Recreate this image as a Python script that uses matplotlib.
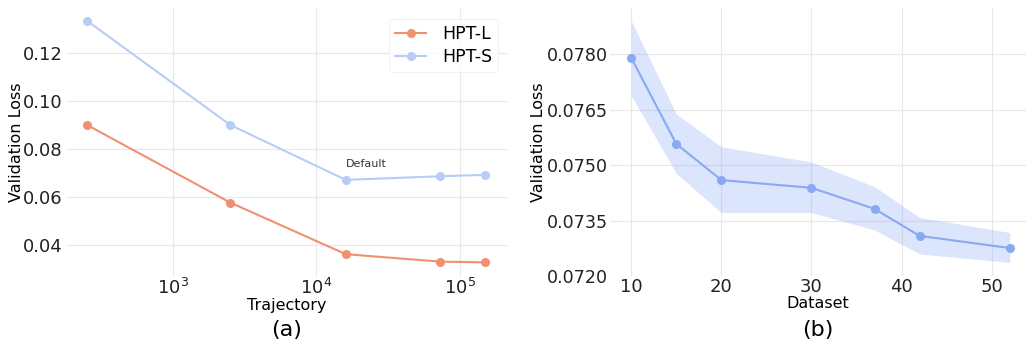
import matplotlib
matplotlib.use("Agg")
import matplotlib.pyplot as plt
import numpy as np

# panel (a): validation loss vs number of trajectories
traj = [250, 2500, 16000, 73000, 150000]
hpt_l = [0.0900, 0.0578, 0.0364, 0.0333, 0.0330]
hpt_s = [0.1332, 0.0900, 0.0672, 0.0687, 0.0693]

# panel (b): validation loss vs number of datasets
n_dataset = [10, 15, 20, 30, 37, 42, 52]
loss_mean = [0.07791, 0.07558, 0.07460, 0.07439, 0.07382, 0.07309, 0.07276]
loss_upper = [0.07891, 0.07639, 0.07550, 0.07509, 0.07442, 0.07359, 0.07318]
loss_lower = [0.07689, 0.07478, 0.07372, 0.07372, 0.07325, 0.07260, 0.07237]

c_l = "#f0906f"
c_s = "#b9ccf6"
c_b = "#8aa9f2"
grid_c = "#e8e8e8"

plt.rcParams["font.family"] = "DejaVu Sans"

fig = plt.figure(figsize=(10.28, 3.46), dpi=100)
ax1 = fig.add_axes([0.065, 0.202, 0.428, 0.775])
ax2 = fig.add_axes([0.593, 0.202, 0.405, 0.775])

for ax in (ax1, ax2):
    for s in ax.spines.values():
        s.set_visible(False)
    ax.grid(True, color=grid_c, linewidth=0.8)
    ax.set_axisbelow(True)
    ax.tick_params(length=0, labelsize=13, colors="#222222")
    ax.tick_params(axis="x", pad=1.5)
    ax.tick_params(axis="y", pad=3)
ax2.tick_params(axis="y", labelsize=12.6, pad=1.5)

# (a)
ax1.plot(traj, hpt_l, "-o", color=c_l, lw=1.5, ms=5.5, label="HPT-L")
ax1.plot(traj, hpt_s, "-o", color=c_s, lw=1.5, ms=5.5, label="HPT-S")
ax1.set_xscale("log")
ax1.set_xlim(181, 213000)
ax1.set_ylim(0.0273, 0.1385)
ax1.set_yticks([0.04, 0.06, 0.08, 0.10, 0.12])
ax1.set_yticklabels(["0.04", "0.06", "0.08", "0.10", "0.12"])
ax1.minorticks_off()
ax1.annotate("Default", (traj[2], hpt_s[2]), xytext=(0, 8), textcoords="offset points",
             fontsize=8, color="#333333", ha="left", va="bottom")
ax1.set_xlabel("Trajectory", fontsize=11.5, labelpad=0)
ax1.set_ylabel("Validation Loss", fontsize=11.5)
ax1.yaxis.set_label_coords(-0.098, 0.5)
leg = ax1.legend(loc="upper right", fontsize=12.5, frameon=True, borderpad=0.35,
                 handlelength=1.8, labelspacing=0.25, handletextpad=0.9,
                 bbox_to_anchor=(1.0, 0.99))
leg.get_frame().set_edgecolor("#eeeeee")
leg.get_frame().set_linewidth(0.8)
ax1.text(0.5, -0.2, "(a)", transform=ax1.transAxes, ha="center", va="center", fontsize=16)

# (b)
ax2.fill_between(n_dataset, loss_lower, loss_upper, color=c_b, alpha=0.3, lw=0)
ax2.plot(n_dataset, loss_mean, "-o", color=c_b, lw=1.5, ms=5.5)
ax2.set_xlim(7.6, 53.8)
ax2.set_ylim(0.0720, 0.07926)
ax2.set_xticks([10, 20, 30, 40, 50])
ax2.set_yticks([0.0720, 0.0735, 0.0750, 0.0765, 0.0780])
ax2.set_yticklabels(["0.0720", "0.0735", "0.0750", "0.0765", "0.0780"])
ax2.set_xlabel("Dataset", fontsize=11.5, labelpad=0)
ax2.set_ylabel("Validation Loss", fontsize=11.5)
ax2.yaxis.set_label_coords(-0.152, 0.5)
ax2.text(0.5, -0.2, "(b)", transform=ax2.transAxes, ha="center", va="center", fontsize=16)

fig.savefig("out.png", dpi=100)
